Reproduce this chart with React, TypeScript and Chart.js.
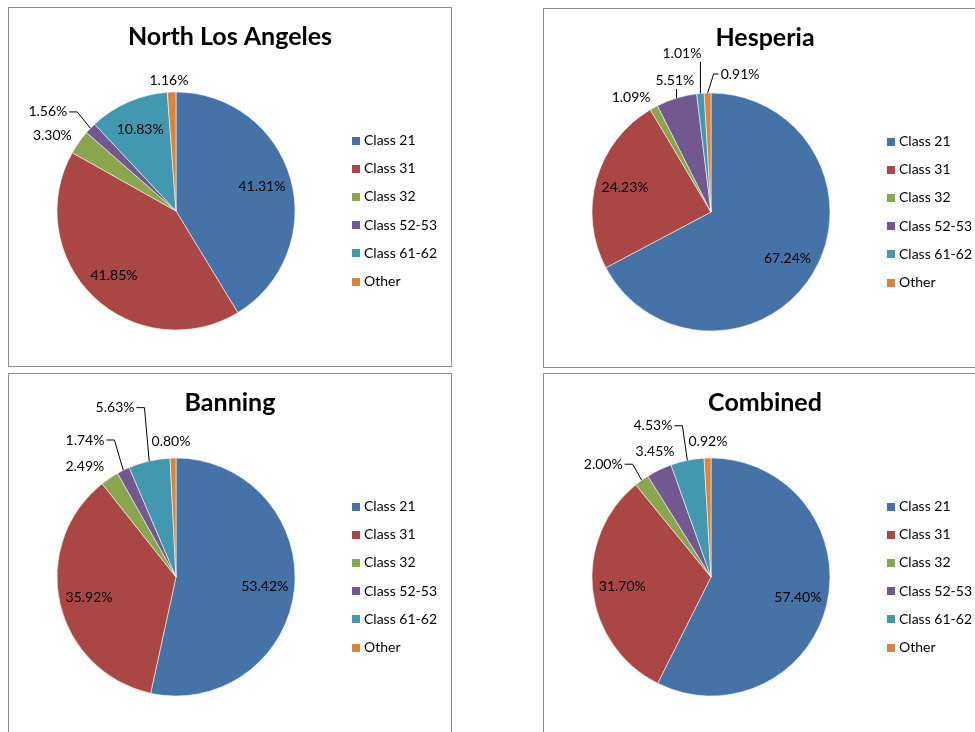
import React, { useEffect, useRef } from "react";
import { Chart, registerables } from "chart.js";

Chart.register(...registerables);

const categories = ["Class 21", "Class 31", "Class 32", "Class 52-53", "Class 61-62", "Other"];
const sliceColors = ["#4572A7", "#AA4643", "#89A54E", "#71588F", "#4198AF", "#DB843D"];

const titles = ["North Los Angeles", "Hesperia", "Banning", "Combined"];
const northLosAngeles = [41.31, 41.85, 3.3, 1.56, 10.83, 1.16];
const hesperia = [67.24, 24.23, 1.09, 5.51, 1.01, 0.91];
const banning = [53.42, 35.92, 2.49, 1.74, 5.63, 0.8];
const combined = [57.4, 31.7, 2.0, 3.45, 4.53, 0.92];

// label placement relative to the pie: null = inside the slice;
// otherwise angle (deg clockwise from top), distance from centre, leader line
type Spot = { a: number; d: number; leader: boolean } | null;
const nlaSpots: Spot[] = [null, null, { a: 301.5, d: 145, leader: false }, { a: 307.7, d: 162, leader: true }, null, { a: 356.9, d: 131, leader: false }];
const hesSpots: Spot[] = [null, null, { a: 325.2, d: 140, leader: false }, { a: 344.6, d: 136, leader: true }, { a: 349.6, d: 161, leader: true }, { a: 11.9, d: 141, leader: true }];
const banSpots: Spot[] = [null, null, { a: 320.4, d: 143, leader: false }, { a: 326.4, d: 164.5, leader: true }, { a: 340.2, d: 180, leader: true }, { a: 357.9, d: 136, leader: false }];
const comSpots: Spot[] = [null, null, { a: 316.3, d: 156, leader: true }, { a: 335.9, d: 137, leader: false }, { a: 339, d: 162, leader: true }, { a: 358.7, d: 136, leader: false }];

const W = 442;
const H = 358;
const FONT = "Lato, 'Open Sans', sans-serif";

const decorPlugin = {
  id: "decor",
  afterDatasetsDraw(chart: any, _args: any, opts: any) {
    const ctx: CanvasRenderingContext2D = chart.ctx;
    const meta = chart.getDatasetMeta(0);
    const data: number[] = chart.data.datasets[0].data;
    const spots: Spot[] = opts.spots;
    ctx.save();
    // title
    ctx.fillStyle = "#000";
    ctx.font = `bold 25px ${FONT}`;
    ctx.textAlign = "center";
    ctx.textBaseline = "middle";
    ctx.fillText(opts.title, W / 2, 29);

    // data labels
    ctx.font = `14px ${FONT}`;
    meta.data.forEach((arc: any, i: number) => {
      const p = arc.getProps(["x", "y", "startAngle", "endAngle", "outerRadius"], true);
      const mid = (p.startAngle + p.endAngle) / 2;
      const text = data[i].toFixed(2) + "%";
      const spot = spots[i];
      let lx: number, ly: number;
      if (!spot) {
        const d = p.outerRadius * 0.75;
        lx = p.x + d * Math.cos(mid);
        ly = p.y + d * Math.sin(mid);
      } else {
        const ang = (spot.a * Math.PI) / 180 - Math.PI / 2;
        lx = p.x + spot.d * Math.cos(ang);
        ly = p.y + spot.d * Math.sin(ang);
      }
      ctx.fillStyle = "#000";
      ctx.textAlign = "center";
      ctx.textBaseline = "middle";
      ctx.fillText(text, lx, ly);
      if (spot && spot.leader) {
        const tw = ctx.measureText(text).width;
        const x0 = lx - tw / 2 - 1;
        const x1 = lx + tw / 2 + 1;
        const tx = p.x + p.outerRadius * Math.cos(mid);
        const ty = p.y + p.outerRadius * Math.sin(mid);
        ctx.strokeStyle = "#000";
        ctx.lineWidth = 1;
        ctx.beginPath();
        if (tx > x1 + 2) {
          ctx.moveTo(x1 + 1, ly);
          ctx.lineTo(Math.min(x1 + 9, tx), ly);
          ctx.lineTo(tx, ty);
        } else if (tx < x0 - 2) {
          ctx.moveTo(x0 - 1, ly);
          ctx.lineTo(Math.max(x0 - 6, tx), ly);
          ctx.lineTo(tx, ty);
        } else {
          ctx.moveTo(tx, ly + 8);
          ctx.lineTo(tx, ty);
        }
        ctx.stroke();
      }
    });

    // legend
    ctx.font = `14px ${FONT}`;
    ctx.textAlign = "left";
    categories.forEach((c, i) => {
      const y = 132.5 + i * 28.2;
      ctx.fillStyle = sliceColors[i];
      ctx.fillRect(343, Math.round(y - 4), 8, 8);
      ctx.fillStyle = "#000";
      ctx.fillText(c, 355, y);
    });
    ctx.restore();
  },
};

function PiePanel(props: { title: string; values: number[]; spots: Spot[]; left: number; top: number }) {
  const ref = useRef<HTMLCanvasElement>(null);
  useEffect(() => {
    if (!ref.current) return;
    const chart = new Chart(ref.current, {
      type: "pie",
      data: {
        labels: categories,
        datasets: [
          {
            data: props.values,
            backgroundColor: sliceColors,
            borderColor: "rgba(255,255,255,0.55)",
            borderWidth: 1,
          },
        ],
      },
      options: {
        animation: false,
        responsive: false,
        devicePixelRatio: 1,
        radius: 119,
        layout: { padding: { left: 48, right: 156, top: 84, bottom: 36 } },
        plugins: {
          legend: { display: false },
          title: { display: false },
          tooltip: { enabled: false },
          decor: { title: props.title, spots: props.spots },
        } as any,
      },
      plugins: [decorPlugin],
    });
    return () => chart.destroy();
  }, []);
  return (
    <div
      style={{
        position: "absolute",
        left: props.left,
        top: props.top,
        border: "1px solid #8e8e8e",
        background: "#fff",
        width: W,
        height: H,
      }}
    >
      <canvas ref={ref} width={W} height={H} style={{ display: "block", width: W, height: H }} />
    </div>
  );
}

export default function App() {
  return (
    <div style={{ position: "fixed", left: 0, top: 0, width: 975, height: 732, overflow: "hidden", background: "#fff" }}>
      <PiePanel title={titles[0]} values={northLosAngeles} spots={nlaSpots} left={8} top={7} />
      <PiePanel title={titles[1]} values={hesperia} spots={hesSpots} left={543} top={8} />
      <PiePanel title={titles[2]} values={banning} spots={banSpots} left={8} top={373} />
      <PiePanel title={titles[3]} values={combined} spots={comSpots} left={543} top={373} />
    </div>
  );
}
